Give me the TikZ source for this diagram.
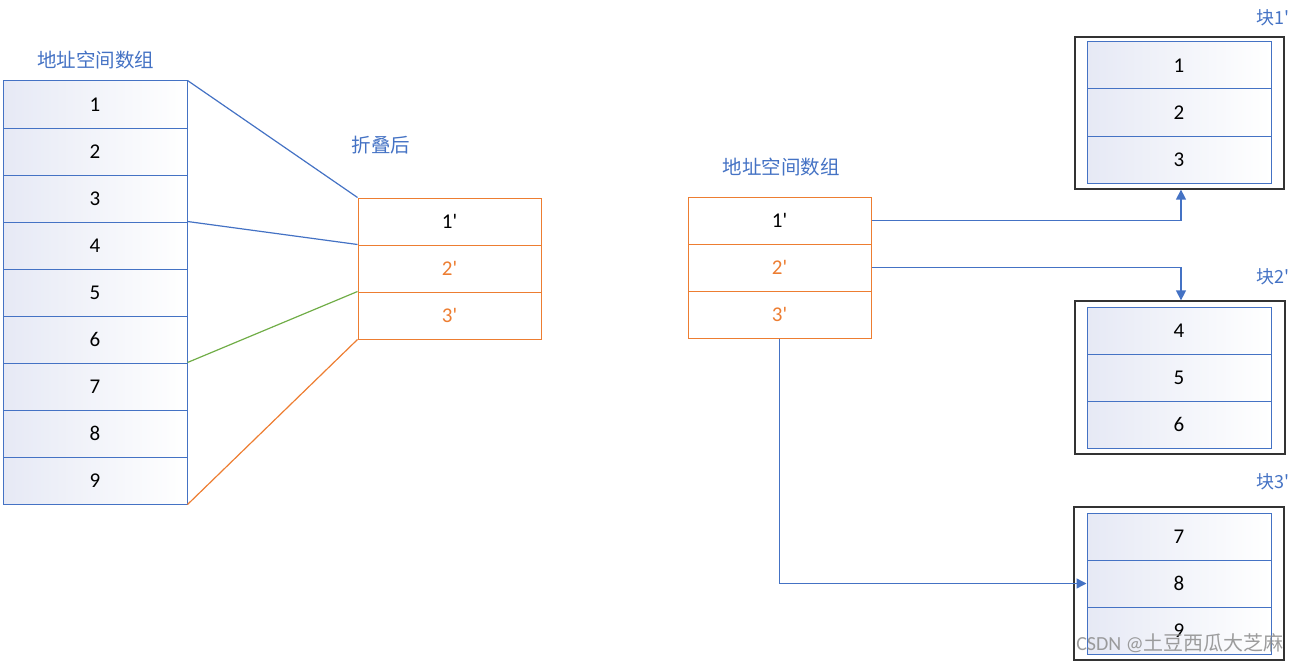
\documentclass[tikz,border=0pt]{standalone}
\usepackage{fontspec}
\setmainfont{Carlito}[Ligatures=TeXOff]
\newfontfamily\cjk{Noto Sans CJK SC}[Ligatures=TeXOff]
\usetikzlibrary{arrows.meta}
\definecolor{lnblue}{HTML}{4472C4}
\definecolor{lnorange}{HTML}{ED7D31}
\definecolor{lngreen}{HTML}{70AD47}
\definecolor{lav}{HTML}{E6E9F5}
\definecolor{ttlblue}{HTML}{4472C4}
\tikzset{
  cell/.style={draw=lnblue, line width=1pt, left color=lav, middle color=white, right color=white,
    minimum width=184pt, minimum height=47pt, inner sep=0pt, font=\fontsize{21}{24}\selectfont, text=black},
  ocell/.style={draw=lnorange, line width=1pt, fill=white,
    minimum width=183pt, minimum height=47pt, inner sep=0pt, font=\fontsize{21}{24}\selectfont},
  blk/.style={draw=black!80, line width=1.3pt, inner sep=0pt},
  ttl/.style={text=ttlblue, font=\cjk\fontsize{19.5}{22}\selectfont, inner sep=0pt},
  blabel/.style={text=ttlblue, font=\cjk\fontsize{18}{21}\selectfont, inner sep=0pt, anchor=east},
  link/.style={line width=1.2pt},
  arr/.style={draw=lnblue, line width=1.4pt, -{Triangle[length=10pt,width=10pt]}},
}
\begin{document}
\begin{tikzpicture}[x=1pt,y=-1pt]
\useasboundingbox (0,0) rectangle (1302,661);
% left array
\node[ttl] (t1) at (96,60) {地址空间数组};
\foreach \i in {1,...,9} {
  \node[cell] (L\i) at (95,{104.5+47*(\i-1)}) {\i};
}
% folded
\node[ttl] (t2) at (381,145) {折叠后};
\node[ocell, text=black] (F1) at (449.5,221.5) {1'};
\node[ocell, text=lnorange] (F2) at (449.5,268.5) {2'};
\node[ocell, text=lnorange] (F3) at (449.5,315.5) {3'};
% connectors left
\draw[link, lnblue] (L1.north east) -- (F1.north west);
\draw[link, lnblue] (L4.north east) -- (F2.north west);
\draw[link, lngreen] (L7.north east) -- (F3.north west);
\draw[link, lnorange] (L9.south east) -- (F3.south west);
% right array
\node[ttl] (t3) at (781,167) {地址空间数组};
\node[ocell, text=black] (R1) at (779.5,220.5) {1'};
\node[ocell, text=lnorange] (R2) at (779.5,267.5) {2'};
\node[ocell, text=lnorange] (R3) at (779.5,314.5) {3'};
% blocks
\node[blk, minimum width=209pt, minimum height=152pt] (B1) at (1179.5,113) {};
\node[blk, minimum width=210pt, minimum height=153pt] (B2) at (1180,377.5) {};
\node[blk, minimum width=210pt, minimum height=153pt] (B3) at (1179,583.5) {};
\node[cell] (C1) at (1179,65.5) {1};
\node[cell] (C2) at (1179,112.5) {2};
\node[cell] (C3) at (1179,159.5) {3};
\node[cell] (C4) at (1179,330.5) {4};
\node[cell] (C5) at (1179,377.5) {5};
\node[cell] (C6) at (1179,424.5) {6};
\node[cell] (C7) at (1179,536.5) {7};
\node[cell] (C8) at (1179,583.5) {8};
\node[cell] (C9) at (1179,630.5) {9};
\node[blabel] (k1) at (1290,18) {块1'};
\node[blabel] (k2) at (1290,277) {块2'};
\node[blabel] (k3) at (1290,482) {块3'};
% arrows
\draw[arr] (R1.east) -| ([xshift=1.5pt]B1.south);
\draw[arr] (R2.east) -| ([xshift=1pt]B2.north);
\draw[arr] (R3.south) |- (C8.west);
% watermark
\node[text=black!45, opacity=0.85, font=\fontsize{20}{23}\selectfont, inner sep=0pt] (wm) at (1180,643) {CSDN @{\cjk 土豆西瓜大芝麻}};
\end{tikzpicture}
\end{document}
